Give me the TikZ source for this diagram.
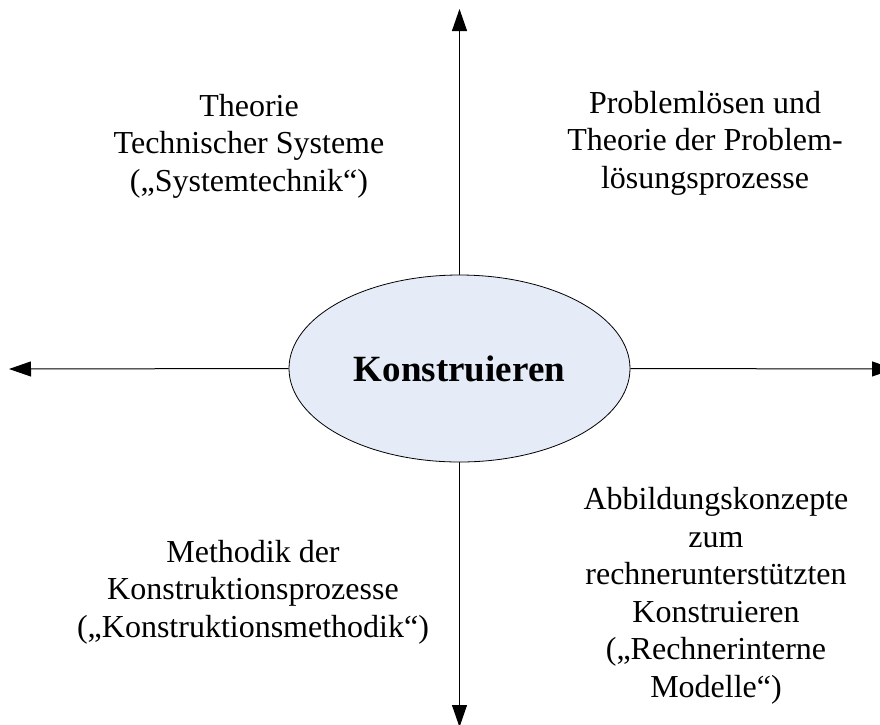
\documentclass[tikz,border=0pt]{standalone}
\usepackage{fontspec}
\setmainfont{Liberation Serif}
\usetikzlibrary{arrows.meta,shapes.geometric}
\definecolor{ovalfill}{RGB}{229,235,247}
\tikzset{
  axis/.style={draw=black, line width=1pt, -{Triangle[length=22pt,width=15pt]}},
  oval/.style={ellipse, draw=black, line width=0.8pt, fill=ovalfill,
    minimum width=341pt, minimum height=187pt, inner sep=0pt,
    font=\fontsize{37}{44}\selectfont\bfseries},
  field/.style={align=center, inner sep=0pt,
    font=\fontsize{32}{37.5}\selectfont}
}
\begin{document}
\begin{tikzpicture}[x=1pt, y=-1pt]
  \useasboundingbox (0,0) rectangle (880,724);
  \clip (0,0) rectangle (880,724);

  % central topic
  \node[oval] (k) at (459.5,368.5) {Konstruieren};

  % free ends of the four axes
  \coordinate (top) at (459.5,9);
  \coordinate (bottom) at (459.5,727);
  \coordinate (left) at (9,369);
  \coordinate (right) at (894,369);

  \draw[axis] (k.north) -- (top);
  \draw[axis] (k.south) -- (bottom);
  \draw[axis] (k.west) -- (left);
  \draw[axis] (k.east) -- (right);

  % the four fields around the centre
  \node[field] (tl) at (249,146) {Theorie\\Technischer Systeme\\(„Systemtechnik“)};
  \node[field] (tr) at (705,143) {Problemlösen und\\Theorie der Problem-\\lösungsprozesse};
  \node[field] (bl) at (253,592) {Methodik der\\Konstruktionsprozesse\\(„Konstruktionsmethodik“)};
  \node[field] (br) at (716,596) {Abbildungskonzepte\\zum\\rechnerunterstützten\\Konstruieren\\(„Rechnerinterne\\Modelle“)};
\end{tikzpicture}
\end{document}
